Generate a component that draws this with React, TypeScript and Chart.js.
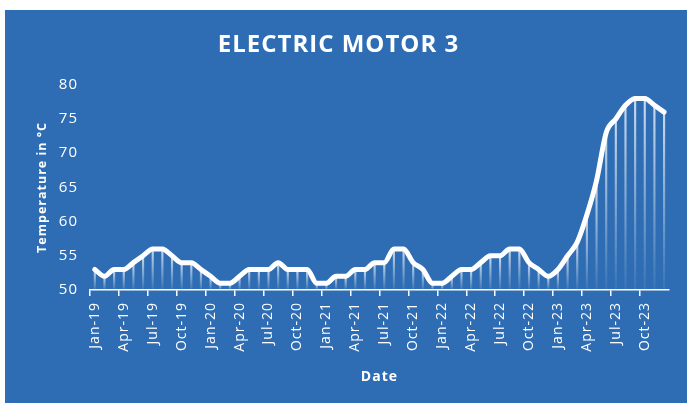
import React, { useEffect, useRef } from "react";
import { Chart, registerables } from "chart.js";

Chart.register(...registerables);

const months: string[] = [
  "Jan-19","Feb-19","Mar-19","Apr-19","May-19","Jun-19","Jul-19","Aug-19","Sep-19","Oct-19","Nov-19","Dec-19",
  "Jan-20","Feb-20","Mar-20","Apr-20","May-20","Jun-20","Jul-20","Aug-20","Sep-20","Oct-20","Nov-20","Dec-20",
  "Jan-21","Feb-21","Mar-21","Apr-21","May-21","Jun-21","Jul-21","Aug-21","Sep-21","Oct-21","Nov-21","Dec-21",
  "Jan-22","Feb-22","Mar-22","Apr-22","May-22","Jun-22","Jul-22","Aug-22","Sep-22","Oct-22","Nov-22","Dec-22",
  "Jan-23","Feb-23","Mar-23","Apr-23","May-23","Jun-23","Jul-23","Aug-23","Sep-23","Oct-23","Nov-23","Dec-23",
];

const temperature: number[] = [
  53, 52, 53, 53, 54, 55, 56, 56, 55, 54, 54, 53,
  52, 51, 51, 52, 53, 53, 53, 54, 53, 53, 53, 51,
  51, 52, 52, 53, 53, 54, 54, 56, 56, 54, 53, 51,
  51, 52, 53, 53, 54, 55, 55, 56, 56, 54, 53, 52,
  53, 55, 57, 61, 66, 73, 75, 77, 78, 78, 77, 76,
];

const yTicks: number[] = [50, 55, 60, 65, 70, 75, 80];

const TITLE = "ELECTRIC MOTOR 3";
const X_TITLE = "Date";
const Y_TITLE = "Temperature in °C";
const BG = "#2E6DB4";
const FONT = "'Open Sans', 'DejaVu Sans', sans-serif";

const spacingPlugin = {
  id: "spacing",
  beforeDraw(chart: any) {
    try {
      chart.ctx.letterSpacing = "1px";
    } catch (e) {}
  },
};

export default function App() {
  const canvasRef = useRef<HTMLCanvasElement | null>(null);

  useEffect(() => {
    const canvas = canvasRef.current;
    if (!canvas) return;
    const chart = new Chart(canvas, {
      type: "line",
      data: {
        labels: months,
        datasets: [
          {
            type: "line",
            data: temperature,
            borderColor: "#ffffff",
            borderWidth: 5,
            cubicInterpolationMode: "monotone",
            pointRadius: 0,
            borderCapStyle: "round",
            borderJoinStyle: "round",
            fill: false,
            order: 0,
          } as any,
          {
            type: "bar",
            data: temperature,
            base: 50,
            barThickness: 1.5,
            order: 1,
            backgroundColor: (ctx: any) => {
              const ch = ctx.chart;
              const area = ch.chartArea;
              if (!area || ctx.raw == null) return "rgba(255,255,255,0.5)";
              const top = ch.scales.y.getPixelForValue(ctx.raw);
              const g = ch.ctx.createLinearGradient(0, top, 0, area.bottom);
              g.addColorStop(0, "rgba(255,255,255,0.75)");
              g.addColorStop(1, "rgba(255,255,255,0.05)");
              return g;
            },
          } as any,
        ],
      },
      options: {
        animation: false,
        responsive: true,
        maintainAspectRatio: false,
        layout: { padding: { left: 0, right: 15, top: 0, bottom: 0 } },
        plugins: {
          legend: { display: false },
          tooltip: { enabled: false },
          title: {
            display: true,
            text: TITLE,
            color: "#ffffff",
            font: { family: FONT, size: 24, weight: "bold" },
            padding: { top: 21, bottom: 25 },
          },
        },
        scales: {
          x: {
            type: "category",
            offset: true,
            afterFit: (s: any) => {
              s.height = 113;
            },
            grid: {
              display: true,
              offset: true,
              drawOnChartArea: false,
              drawTicks: true,
              tickLength: 6,
              lineWidth: 1.5,
              color: (ctx: any) => (ctx.index % 3 === 0 ? "#ffffff" : "rgba(0,0,0,0)"),
            },
            border: { display: true, color: "#ffffff", width: 1.5 },
            ticks: {
              autoSkip: false,
              maxRotation: 90,
              minRotation: 90,
              padding: 6,
              color: "#ffffff",
              font: { family: FONT, size: 14 },
              callback: (_v: any, idx: number) => (idx % 3 === 0 ? months[idx] : ""),
            },
            title: {
              display: true,
              text: X_TITLE,
              color: "#ffffff",
              font: { family: FONT, size: 14, weight: "bold" },
              padding: { top: 4, bottom: 18 },
            },
          },
          y: {
            min: 50,
            max: 80,
            afterFit: (s: any) => {
              s.width = 85;
            },
            afterBuildTicks: (s: any) => {
              s.ticks = yTicks.map((v) => ({ value: v }));
            },
            grid: { display: false, drawTicks: false },
            border: { display: false },
            ticks: {
              padding: 12,
              color: "#ffffff",
              font: { family: FONT, size: 15 },
            },
            title: {
              display: true,
              text: Y_TITLE,
              color: "#ffffff",
              font: { family: FONT, size: 12.5, weight: "bold" },
              padding: { top: 30, bottom: 0 },
            },
          },
        },
      } as any,
      plugins: [spacingPlugin],
    });
    return () => chart.destroy();
  }, []);

  return (
    <div
      style={{
        position: "absolute",
        left: 5,
        top: 10,
        width: 682,
        height: 393,
        background: BG,
      }}
    >
      <canvas ref={canvasRef} />
    </div>
  );
}
